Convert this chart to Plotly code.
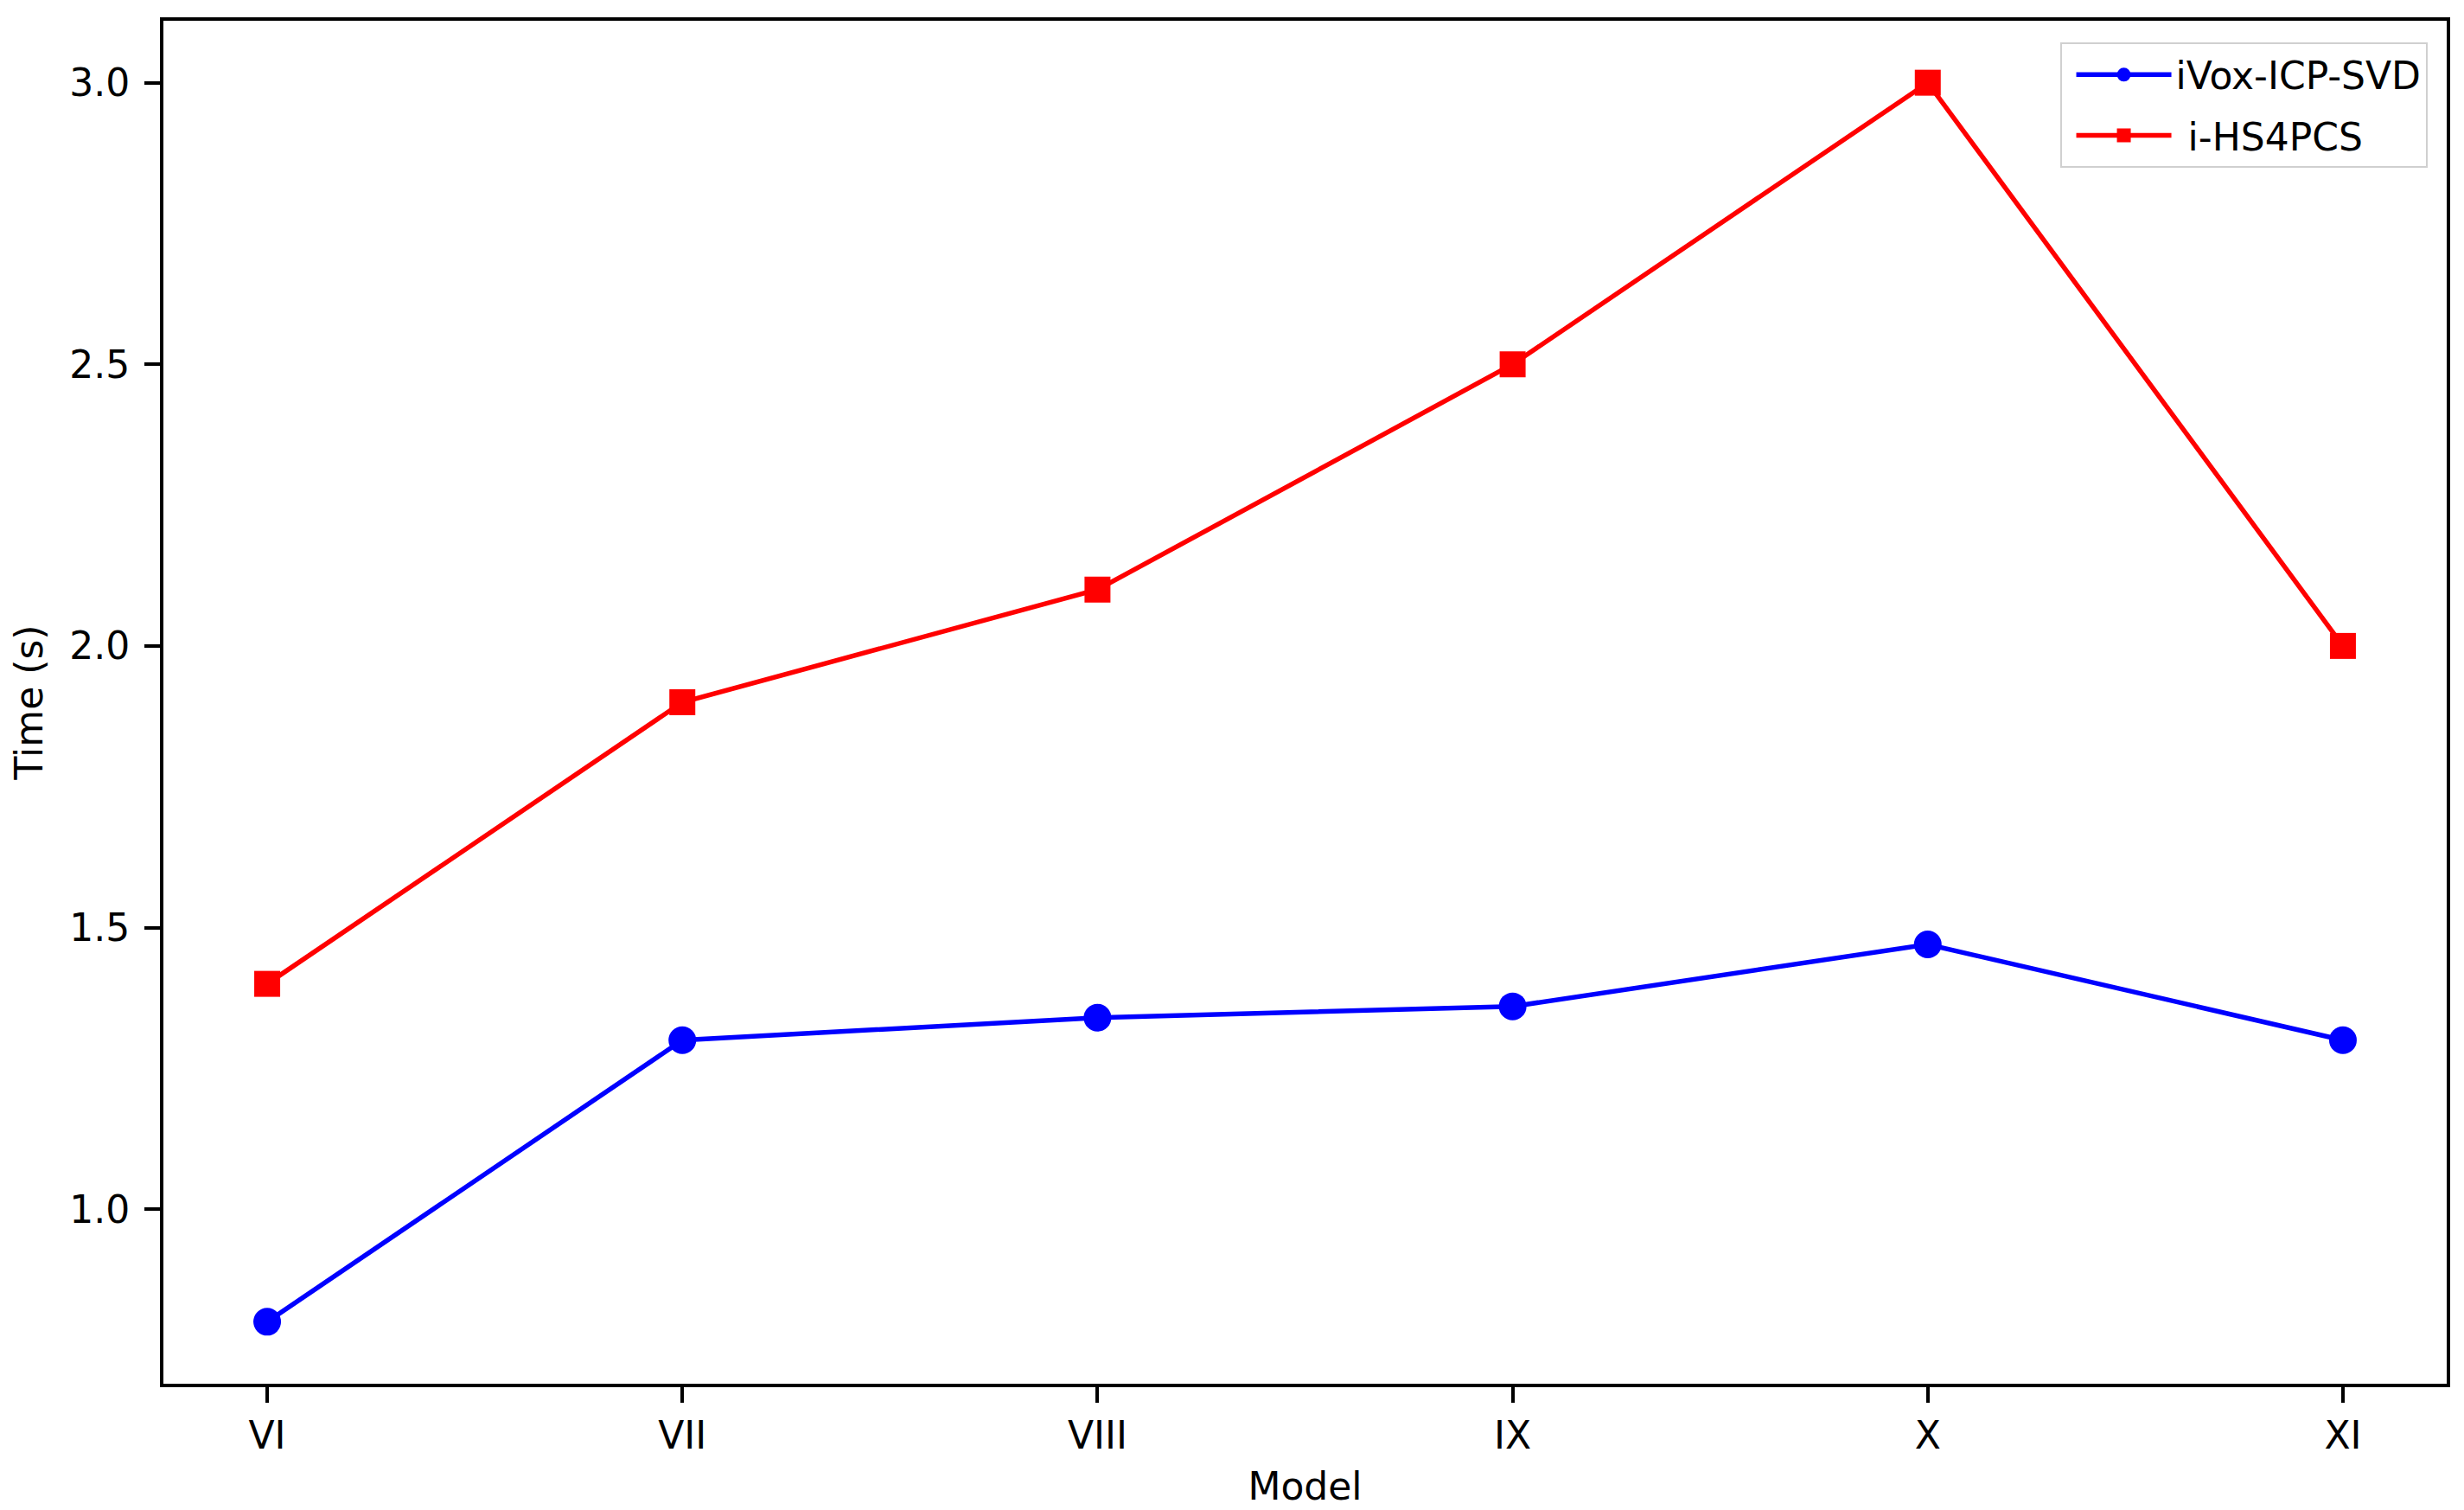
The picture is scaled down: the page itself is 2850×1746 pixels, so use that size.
import plotly.graph_objects as go

models = ["VI", "VII", "VIII", "IX", "X", "XI"]
ivox_icp_svd = [0.8, 1.3, 1.34, 1.36, 1.47, 1.3]
i_hs4pcs = [1.4, 1.9, 2.1, 2.5, 3.0, 2.0]

font = dict(family="DejaVu Sans", size=44, color="black")

fig = go.Figure()
fig.add_trace(go.Scatter(
    x=models, y=ivox_icp_svd, mode="lines+markers", name="iVox-ICP-SVD",
    line=dict(color="blue", width=5.5),
    marker=dict(symbol="circle", size=32, color="blue"),
    legendgroup="a",
))
fig.add_trace(go.Scatter(
    x=models, y=i_hs4pcs, mode="lines+markers", name=" i-HS4PCS",
    line=dict(color="red", width=5.5),
    marker=dict(symbol="square", size=30, color="red"),
    legendgroup="b",
))

# matplotlib-style 5% padding around the data
lo = min(ivox_icp_svd + i_hs4pcs)
hi = max(ivox_icp_svd + i_hs4pcs)
pad = 0.05 * (hi - lo)

axis_style = dict(
    showline=True, mirror=True, linecolor="black", linewidth=4,
    ticks="outside", ticklen=18, tickwidth=4, tickcolor="black",
    showgrid=False, zeroline=False, tickfont=font,
)

fig.update_layout(
    width=2850, height=1746,
    margin=dict(l=181, r=28, t=16, b=154, autoexpand=False),
    paper_bgcolor="white", plot_bgcolor="white",
    font=font,
    xaxis=dict(axis_style, range=[-0.25, len(models) - 0.75], ticklabelstandoff=0,
               title=dict(text="Model", font=font, standoff=20)),
    yaxis=dict(axis_style, range=[lo - pad, hi + pad], ticklabelstandoff=8,
               tickvals=[1.0, 1.5, 2.0, 2.5, 3.0], ticktext=["1.0", "1.5", "2.0", "2.5", "3.0"],
               title=dict(text="Time (s)", font=font, standoff=18)),
    legend=dict(
        x=0.9915, y=0.984, xanchor="right", yanchor="top",
        bgcolor="white", bordercolor="#d0d0d0", borderwidth=2,
        font=font, tracegroupgap=10, itemwidth=110, indentation=12,
    ),
    showlegend=True,
)

fig.write_html("out.html")
